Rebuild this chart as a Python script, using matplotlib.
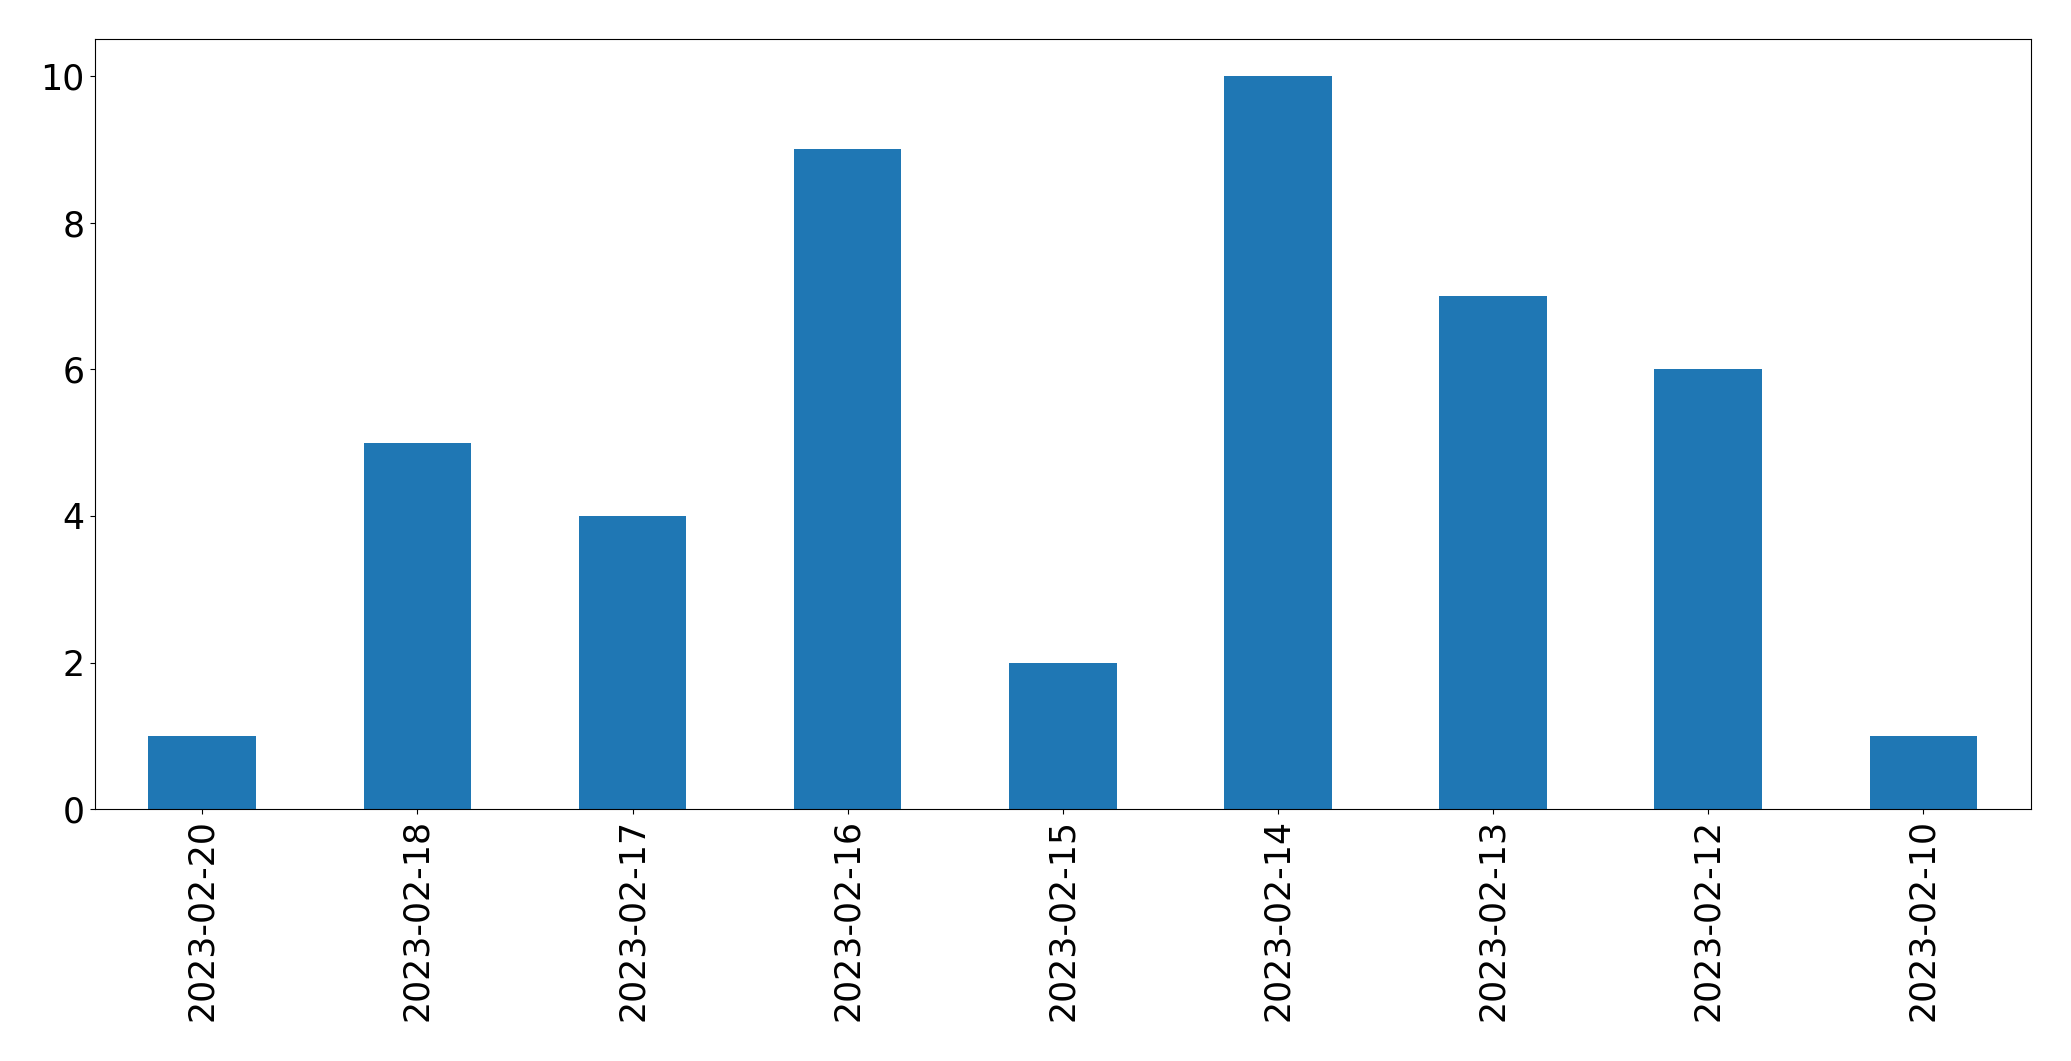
import matplotlib
matplotlib.use("Agg")
import matplotlib.pyplot as plt
import numpy as np

# daily counts
dates = ["2023-02-20", "2023-02-18", "2023-02-17", "2023-02-16", "2023-02-15",
         "2023-02-14", "2023-02-13", "2023-02-12", "2023-02-10"]
counts = [1, 5, 4, 9, 2, 10, 7, 6, 1]

fig = plt.figure(figsize=(20.71, 10.61), dpi=100)
ax = fig.add_axes([94.7 / 2071, 1 - 809.3 / 1061, (2031 - 94.7) / 2071, (809.3 - 39.3) / 1061])

x = np.arange(len(dates))
ax.bar(x, counts, width=0.5, color="#1f77b4")
ax.set_xlim(-0.5, len(dates) - 0.5)
ax.set_ylim(0, 10.5)
ax.set_yticks([0, 2, 4, 6, 8, 10])
ax.set_xticks(x)
ax.set_xticklabels(dates, rotation=90)
ax.tick_params(labelsize=25, length=3.8)
ax.tick_params(axis="x", pad=3.0)

fig.savefig("out.png", dpi=100)
